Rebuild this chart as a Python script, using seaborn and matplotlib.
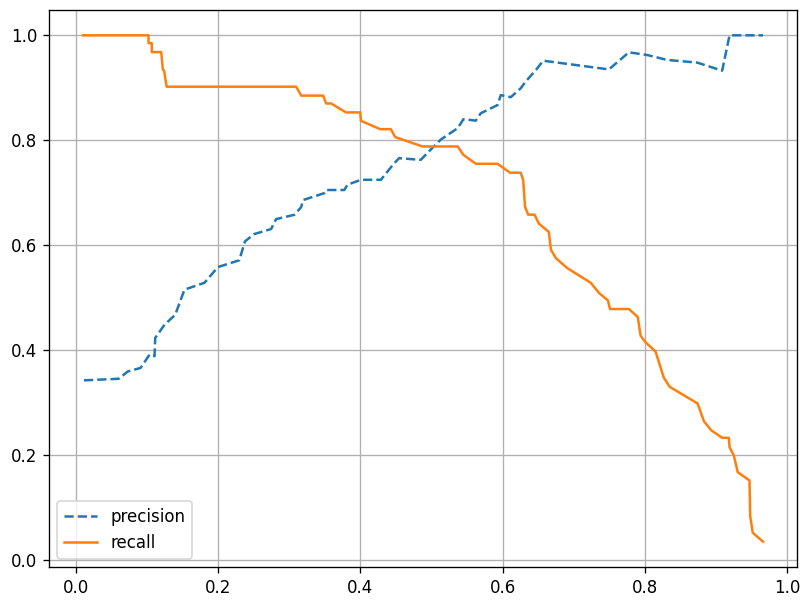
import matplotlib
matplotlib.use("Agg")
import matplotlib.pyplot as plt
import seaborn as sns
import numpy as np

# Thresholds and precision values
threshold_precision = [0.0118, 0.0604, 0.0735, 0.0913, 0.1039, 0.1109, 0.1119, 0.1249, 0.140,
                       0.153, 0.181, 0.200, 0.230, 0.238, 0.251, 0.2747, 0.2817, 0.3074,
                       0.3168, 0.320, 0.3495, 0.352, 0.3776, 0.382, 0.401, 0.429, 0.4477,
                       0.4547, 0.485, 0.499, 0.513, 0.537, 0.545, 0.5624, 0.5694, 0.593,
                       0.5975, 0.6115, 0.6255, 0.6326, 0.647, 0.657, 0.677, 0.7495, 0.7775,
                       0.803, 0.8315, 0.8735, 0.9086, 0.919, 0.966]
precision = [0.342, 0.345, 0.359, 0.3657, 0.391, 0.388, 0.423, 0.448, 0.467,
             0.515, 0.528, 0.558, 0.571, 0.607, 0.621, 0.6305, 0.6495, 0.6577,
             0.672, 0.686, 0.699, 0.705, 0.705, 0.715, 0.7245, 0.7245, 0.756,
             0.7657, 0.7625, 0.782, 0.801, 0.823, 0.840, 0.8373, 0.8514, 0.867,
             0.886, 0.882, 0.899, 0.912, 0.934, 0.9516, 0.948, 0.935, 0.9676,
             0.9625, 0.953, 0.948, 0.9326, 1.0, 1.0]

# Thresholds and recall values
threshold_recall = [0.0104, 0.1025, 0.1025, 0.107, 0.107, 0.1203, 0.1226, 0.1245, 0.126, 0.128,
                    0.310, 0.317, 0.348, 0.352, 0.359, 0.380, 0.400, 0.401, 0.428, 0.443,
                    0.449, 0.4876, 0.537, 0.545, 0.5624, 0.593, 0.6105, 0.6255, 0.629, 0.6316,
                    0.636, 0.645, 0.651, 0.665, 0.668, 0.675, 0.691, 0.724, 0.7355, 0.748,
                    0.751, 0.7775, 0.790, 0.794, 0.801, 0.815, 0.8267, 0.835, 0.874, 0.883,
                    0.893, 0.9086, 0.918, 0.919, 0.925, 0.9305, 0.947, 0.948, 0.9516, 0.966]
recall = [1.0, 1.0, 0.985, 0.985, 0.968, 0.968, 0.935, 0.932, 0.918, 0.902,
          0.902, 0.885, 0.885, 0.870, 0.870, 0.853, 0.853, 0.837, 0.821, 0.821,
          0.806, 0.788, 0.788, 0.772, 0.755, 0.755, 0.738, 0.738, 0.724, 0.673,
          0.658, 0.658, 0.641, 0.625, 0.591, 0.575, 0.556, 0.528, 0.5086, 0.4945,
          0.478, 0.478, 0.463, 0.427, 0.4145, 0.397, 0.3467, 0.3295, 0.298, 0.264,
          0.247, 0.2324, 0.2324, 0.2145, 0.1987, 0.1669, 0.151, 0.083, 0.0514, 0.0343]

plt.rcParams['font.family'] = ['DejaVu Sans']
fig = plt.figure(figsize=(808 / 120, 608 / 120), dpi=120)
ax = fig.add_axes([49 / 808, 1 - 567 / 608, (797 - 49) / 808, (567 - 10) / 608])

sns.lineplot(x=threshold_precision, y=precision, ax=ax, label="precision",
             linestyle="--", color="C0", sort=False, estimator=None)
sns.lineplot(x=threshold_recall, y=recall, ax=ax, label="recall",
             color="C1", sort=False, estimator=None)

ax.set_xticks([0.0, 0.2, 0.4, 0.6, 0.8, 1.0])
ax.set_yticks([0.0, 0.2, 0.4, 0.6, 0.8, 1.0])
ax.grid(True)
ax.legend(loc="lower left")

fig.savefig("out.png", dpi=120)
